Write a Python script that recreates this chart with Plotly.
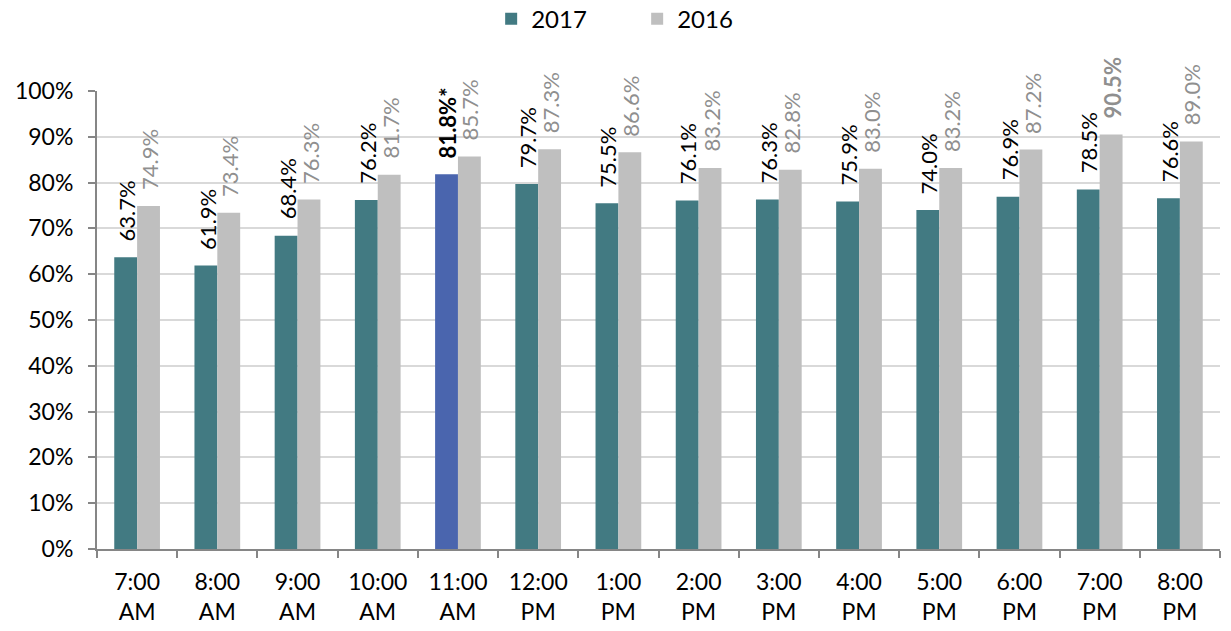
import plotly.graph_objects as go

categories = ["7:00<br>AM", "8:00<br>AM", "9:00<br>AM", "10:00<br>AM", "11:00<br>AM", "12:00<br>PM",
              "1:00<br>PM", "2:00<br>PM", "3:00<br>PM", "4:00<br>PM", "5:00<br>PM", "6:00<br>PM",
              "7:00<br>PM", "8:00<br>PM"]
values_2017 = [63.7, 61.9, 68.4, 76.2, 81.8, 79.7, 75.5, 76.1, 76.3, 75.9, 74.0, 76.9, 78.5, 76.6]
values_2016 = [74.9, 73.4, 76.3, 81.7, 85.7, 87.3, 86.6, 83.2, 82.8, 83.0, 83.2, 87.2, 90.5, 89.0]
highlight_2017 = 4   # 11:00 AM significant
bold_2016 = 12       # 7:00 PM max

FONT = "Lato, Calibri, Carlito, sans-serif"
TEAL = "#427A82"
BLUE = "#4A65AE"
GRAY = "#BFBFBF"
LABEL_GRAY = "#8F8F8F"

L, R, T, B = 97, 11, 91, 82
W, H = 1231, 631
plot_w = W - L - R
BARGAP = 0.43
bar_px = plot_w / len(categories) * (1 - BARGAP) / 2

colors17 = [BLUE if i == highlight_2017 else TEAL for i in range(len(values_2017))]

fig = go.Figure()
fig.add_trace(go.Bar(name="2017", x=categories, y=values_2017,
                     marker=dict(color=colors17, line_width=0)))
fig.add_trace(go.Bar(name="2016", x=categories, y=values_2016,
                     marker=dict(color=GRAY, line_width=0)))

annotations = []
for i, cat in enumerate(categories):
    v17, v16 = values_2017[i], values_2016[i]
    t17 = f"<b>{v17:.1f}%*</b>" if i == highlight_2017 else f"{v17:.1f}%"
    t16 = f"<b>{v16:.1f}%</b>" if i == bold_2016 else f"{v16:.1f}%"
    annotations.append(dict(x=cat, y=v17, xref="x", yref="y", text=t17, showarrow=False,
                            textangle=-90, xanchor="center", yanchor="bottom",
                            xshift=-bar_px / 2 + 1, yshift=14,
                            font=dict(family=FONT, size=22, color="#000000")))
    annotations.append(dict(x=cat, y=v16, xref="x", yref="y", text=t16, showarrow=False,
                            textangle=-90, xanchor="center", yanchor="bottom",
                            xshift=bar_px / 2 + 1, yshift=14,
                            font=dict(family=FONT, size=22, color=LABEL_GRAY)))

fig.update_layout(
    width=W, height=H,
    margin=dict(l=L, r=R, t=T, b=B, autoexpand=False),
    paper_bgcolor="white", plot_bgcolor="white",
    barmode="group", bargap=BARGAP, bargroupgap=0,
    font=dict(family=FONT, size=23, color="#000000"),
    showlegend=True,
    annotations=annotations,
    legend=dict(orientation="h", x=0.481, xanchor="center", y=1.157, yanchor="middle",
                font=dict(family=FONT, size=24), itemwidth=30, traceorder="normal",
                entrywidth=101, bgcolor="rgba(0,0,0,0)"),
    xaxis=dict(showline=True, linecolor="#868686", linewidth=2, ticks="outside",
               tickson="boundaries", ticklen=7, tickcolor="#868686", tickwidth=2,
               tickfont=dict(family=FONT, size=23), showgrid=False, ticklabelstandoff=11),
    yaxis=dict(range=[0, 100], dtick=10, ticksuffix="%", showline=True, linecolor="#868686",
               linewidth=2, ticks="outside", ticklen=7, tickcolor="#868686", tickwidth=2,
               gridcolor="#D9D9D9", gridwidth=2, tickfont=dict(family=FONT, size=23),
               zeroline=False, ticklabelstandoff=10),
)

fig.write_html("out.html")
